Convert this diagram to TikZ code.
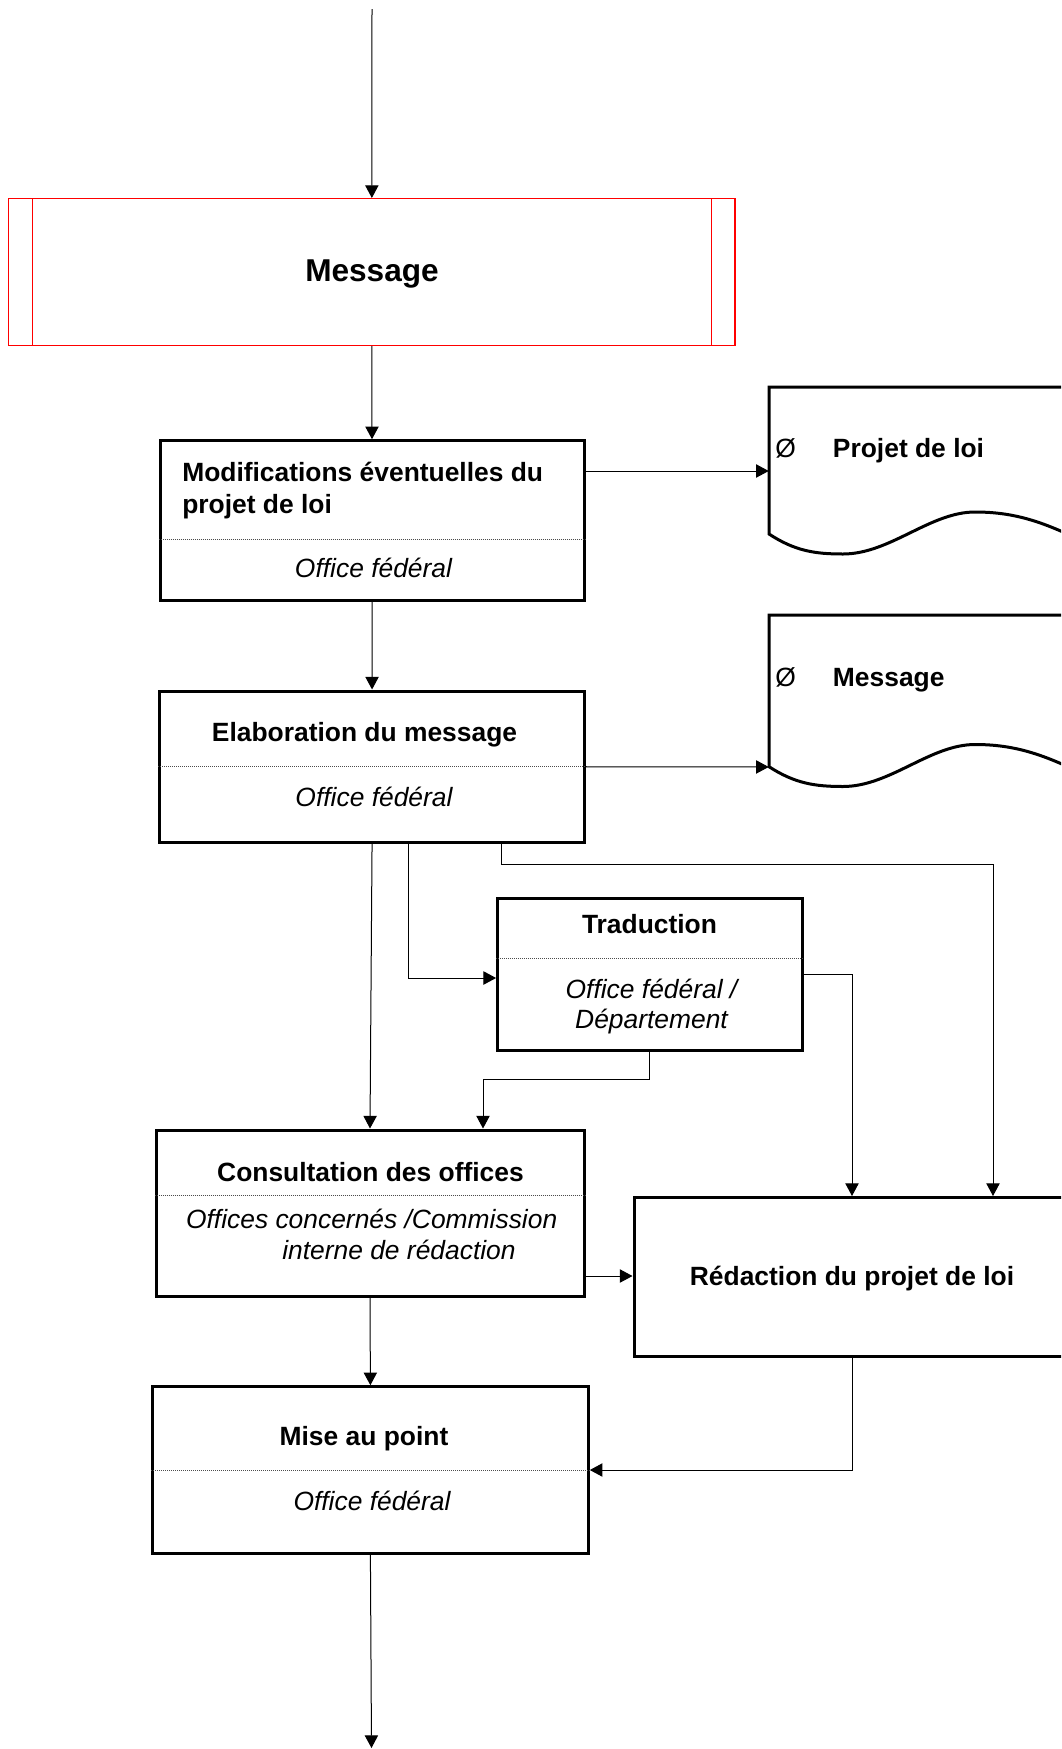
\documentclass[tikz,border=0pt]{standalone}
\usepackage{fontspec}
\setmainfont{Liberation Sans}
\usetikzlibrary{arrows.meta,fit}

\begin{document}
\begin{tikzpicture}[x=0.75pt,y=-0.75pt,
  box/.style={draw, line width=2.25pt, inner sep=0pt},
  conn/.style={draw=black, line width=0.75pt, -{Triangle[length=9.5pt,width=10pt]}},
  sep/.style={draw=black!70, line width=0.6pt, dash pattern=on 0.75pt off 0.75pt},
  docline/.style={draw, line width=2.25pt},
  tb/.style={font=\fontsize{19.8pt}{23pt}\selectfont\bfseries, inner sep=0pt, anchor=base},
  ti/.style={font=\fontsize{19.8pt}{23pt}\selectfont\itshape, inner sep=0pt, anchor=base},
  tr/.style={font=\fontsize{19.8pt}{23pt}\selectfont, inner sep=0pt, anchor=base west},
]
\useasboundingbox (0,0) rectangle (1061,1749);
\clip (0,0) rectangle (1061,1749);

% ---------- boxes ----------
\node[draw=red, line width=0.8pt, inner sep=0pt, fit={(8.7,198.5) (735,345.7)}] (msg) {};
\draw[red, line width=0.8pt] (32.5,198.5) -- (32.5,345.7);
\draw[red, line width=0.8pt] (711.6,198.5) -- (711.6,345.7);
\node[font=\fontsize{23.7pt}{28pt}\selectfont\bfseries, inner sep=0pt, anchor=base] (tmsg) at (372,281.7) {Message};

\node[box, fit={(160,440.7) (584,600)}] (b1) {};
\node[box, fit={(159.5,691) (584.6,842.7)}] (b2) {};
\node[box, fit={(497.6,898.3) (802,1050)}] (tra) {};
\node[box, fit={(156,1130) (584,1296)}] (co) {};
\node[box, fit={(634,1197.5) (1070,1356)}] (re) {};
\node[box, fit={(152.5,1386.7) (588.3,1553.3)}] (mp) {};

% ---------- document shapes ----------
\node[inner sep=0pt, fit={(769,387) (1090,534)}] (d1) {};
\node[inner sep=0pt, fit={(769,615) (1090,766.7)}] (d2) {};
\draw[docline] (1090,387) -- (769,387) -- (769,534)
  .. controls (795,551) and (815,554) .. (843,554)
  .. controls (890,554) and (930,512) .. (975,512)
  .. controls (1015,512) and (1045,522) .. (1090,545);
\draw[docline] (1090,615) -- (769,615) -- (769,766.7)
  .. controls (795,783.5) and (815,786.5) .. (843,786.5)
  .. controls (890,786.5) and (930,744.5) .. (975,744.5)
  .. controls (1015,744.5) and (1045,754.5) .. (1090,777.5);

% ---------- separators ----------
\draw[sep] (b1.west |- 0,539) -- (b1.east |- 0,539);
\draw[sep] (b2.west) -- (b2.east);
\draw[sep] (tra.west |- 0,958.3) -- (tra.east |- 0,958.3);
\draw[sep] (co.west |- 0,1195.7) -- (co.east |- 0,1195.7);
\draw[sep] (mp.west) -- (mp.east);

% ---------- texts ----------
\node[tb, anchor=base west] (t1a) at (182,481) {Modifications éventuelles du};
\node[tb, anchor=base west] (t1b) at (182,513) {projet de loi};
\node[ti] (t1c) at (373.5,577) {Office fédéral};

\node[tr] (z1) at (775,457) {Ø};
\node[tb, anchor=base west] (d1t) at (832.7,457) {Projet de loi};
\node[tr] (z2) at (775,686) {Ø};
\node[tb, anchor=base west] (d2t) at (832.7,686) {Message};

\node[tb] (t2a) at (364.5,741.7) {Elaboration du message};
\node[ti] (t2b) at (374,806) {Office fédéral};

\node[tb] (t3a) at (649.5,933) {Traduction};
\node[ti] (t3b) at (651.5,998.5) {Office fédéral /};
\node[ti] (t3c) at (651.5,1028.3) {Département};

\node[tb] (t4a) at (370.5,1181) {Consultation des offices};
\node[ti, anchor=base west] (t4b) at (185.8,1228.3) {Offices concernés /Commission};
\node[ti, anchor=base west] (t4c) at (282,1259.3) {interne de rédaction};

\node[tb] (t5a) at (852,1285) {Rédaction du projet de loi};

\node[tb] (t6a) at (364,1445) {Mise au point};
\node[ti] (t6b) at (372,1510) {Office fédéral};

% ---------- connectors ----------
\coordinate (top) at (372,9);
\coordinate (bot) at (371.5,1748);
\coordinate (k1) at (993,864);

\draw[conn] (top) -- (msg.north);
\draw[conn] (msg.south) -- (b1.north);
\draw[conn] (b1.east |- 0,471) -- (d1.west |- 0,471);
\draw[conn] (b1.south) -- (b2.north);
\draw[conn] (b2.east) -- (d2.south west);
\draw[conn] (b2.south) -- (co.north);
\draw[conn] (b2.south -| 408,0) |- (tra.west |- 0,978);
\draw[conn] (b2.south -| 501,0) |- (k1) -- (re.north -| k1);
\draw[conn] (tra.east |- 0,974) -| (re.north);
\draw[conn] (tra.south) -- ++(0,27.7) -| (co.north -| 483,0);
\draw[conn] (co.east |- 0,1276) -- (re.west |- 0,1276);
\draw[conn] (co.south) -- (mp.north);
\draw[conn] (re.south) |- (mp.east);
\draw[conn] (mp.south) -- (bot);
\end{tikzpicture}
\end{document}
